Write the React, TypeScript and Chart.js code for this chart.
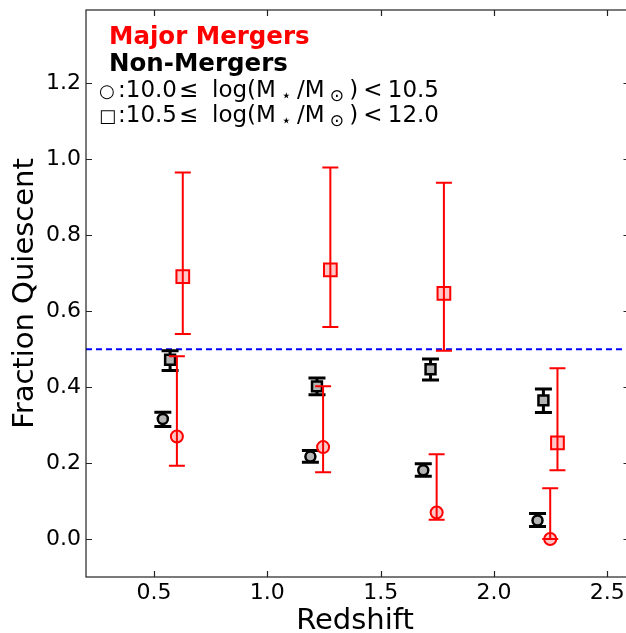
import React, { useEffect, useRef } from 'react';
import { Chart, registerables } from 'chart.js';
Chart.register(...registerables);

const FONT = '"DejaVu Sans", sans-serif';

// axis ranges and ticks
const X_MIN = 0.2;
const X_MAX = 2.6;
const Y_MIN = -0.1;
const Y_MAX = 1.393;
const xTicks = [0.5, 1.0, 1.5, 2.0, 2.5];
const yTicks = [0.0, 0.2, 0.4, 0.6, 0.8, 1.0, 1.2];
const QUIESCENT_LINE = 0.5;

// Non-mergers, 10.0 <= log M < 10.5 (circles)
const nmLowZ = [0.539, 1.19, 1.688, 2.192];
const nmLowFrac = [0.316, 0.217, 0.181, 0.049];
const nmLowLo = [0.296, 0.202, 0.165, 0.033];
const nmLowHi = [0.334, 0.233, 0.198, 0.067];

// Non-mergers, 10.5 <= log M < 12.0 (squares)
const nmHighZ = [0.571, 1.219, 1.72, 2.218];
const nmHighFrac = [0.472, 0.402, 0.447, 0.365];
const nmHighLo = [0.444, 0.38, 0.419, 0.333];
const nmHighHi = [0.496, 0.424, 0.474, 0.395];

// Major mergers, 10.0 <= log M < 10.5 (circles)
const mmLowZ = [0.601, 1.246, 1.747, 2.248];
const mmLowFrac = [0.27, 0.242, 0.07, 0.0];
const mmLowLo = [0.193, 0.176, 0.051, 0.0];
const mmLowHi = [0.481, 0.402, 0.223, 0.134];

// Major mergers, 10.5 <= log M < 12.0 (squares)
const mmHighZ = [0.627, 1.278, 1.779, 2.28];
const mmHighFrac = [0.691, 0.709, 0.647, 0.253];
const mmHighLo = [0.54, 0.558, 0.496, 0.181];
const mmHighHi = [0.965, 0.978, 0.938, 0.45];

const toPts = (xs: number[], ys: number[]) => xs.map((x, i) => ({ x, y: ys[i] }));

const errorBarPlugin = {
  id: 'errorBars',
  beforeDatasetDraw(chart: any, args: any) {
    const ds = chart.data.datasets[args.index];
    if (!ds.errLo) return;
    const { ctx, scales } = chart;
    const xs = scales.x, ys = scales.y;
    ctx.save();
    ctx.strokeStyle = ds.errColor;
    ctx.lineWidth = ds.errWidth;
    ds.data.forEach((p: any, i: number) => {
      const px = xs.getPixelForValue(p.x);
      const yl = ys.getPixelForValue(ds.errLo[i]);
      const yh = ys.getPixelForValue(ds.errHi[i]);
      const c = ds.capHalf;
      ctx.beginPath();
      ctx.moveTo(px, yl); ctx.lineTo(px, yh);
      ctx.moveTo(px - c, yl); ctx.lineTo(px + c, yl);
      ctx.moveTo(px - c, yh); ctx.lineTo(px + c, yh);
      ctx.stroke();
    });
    ctx.restore();
  },
};

type Piece = { t: string; size: number; bold?: boolean; dy?: number };

const fontOf = (p: Piece) => `${p.bold ? 'bold ' : ''}${p.size}px ${FONT}`;

// draw pieces from x0, spread evenly so that the run ends at x1 (if given)
const drawRun = (ctx: CanvasRenderingContext2D, pieces: Piece[], x0: number, y: number, x1?: number) => {
  const widths = pieces.map((p) => { ctx.font = fontOf(p); return ctx.measureText(p.t).width; });
  const natural = widths.reduce((s, w) => s + w, 0);
  const extra = x1 !== undefined && pieces.length > 1 ? Math.max(0, (x1 - x0 - natural) / (pieces.length - 1)) : 0;
  let x = x0;
  ctx.textAlign = 'left';
  ctx.textBaseline = 'alphabetic';
  pieces.forEach((p, i) => {
    ctx.font = fontOf(p);
    ctx.fillText(p.t, x, y + (p.dy || 0));
    x += widths[i] + extra;
  });
};

const framePlugin = {
  id: 'frame',
  afterDraw(chart: any) {
    const { ctx, chartArea: a, scales } = chart;
    const xs = scales.x, ys = scales.y;
    ctx.save();
    // spines
    ctx.strokeStyle = '#222';
    ctx.lineWidth = 1.2;
    ctx.strokeRect(a.left, a.top, a.right - a.left - 0.5, a.bottom - a.top);
    // inward ticks
    const tl = 6;
    ctx.beginPath();
    xTicks.forEach((v) => {
      const px = Math.round(xs.getPixelForValue(v)) + 0.5;
      ctx.moveTo(px, a.bottom); ctx.lineTo(px, a.bottom - tl);
      ctx.moveTo(px, a.top); ctx.lineTo(px, a.top + tl);
    });
    yTicks.forEach((v) => {
      const py = Math.round(ys.getPixelForValue(v)) + 0.5;
      ctx.moveTo(a.left, py); ctx.lineTo(a.left + tl, py);
      ctx.moveTo(a.right - 0.5, py); ctx.lineTo(a.right - 0.5 - tl, py);
    });
    ctx.stroke();

    // axis titles
    ctx.fillStyle = '#000';
    ctx.font = `29px ${FONT}`;
    ctx.textAlign = 'center';
    ctx.textBaseline = 'alphabetic';
    ctx.fillText('Redshift', 355, 629);
    ctx.save();
    ctx.translate(33, (a.top + a.bottom) / 2);
    ctx.rotate(-Math.PI / 2);
    ctx.fillText('Fraction Quiescent', 0, 0);
    ctx.restore();

    // legend text
    ctx.fillStyle = '#ff0000';
    drawRun(ctx, [{ t: 'Major Mergers', size: 24.5, bold: true }], 109, 44);
    ctx.fillStyle = '#000';
    drawRun(ctx, [{ t: 'Non-Mergers', size: 24.5, bold: true }], 109, 70.5);
    const line = (sym: string, lo: string, hi: string, y: number) => {
      drawRun(ctx, [{ t: sym, size: 18 }], 99, y);
      drawRun(ctx, [{ t: ':' + lo, size: 23 }], 118, y);
      drawRun(ctx, [{ t: '≤', size: 23 }], 179, y);
      drawRun(ctx, [
        { t: 'log(M', size: 23 },
        { t: '⋆', size: 17, dy: 4 },
        { t: '/M', size: 23 },
        { t: '⊙', size: 17, dy: 4 },
        { t: ')', size: 23 },
        { t: '<', size: 23 },
        { t: hi, size: 23 },
      ], 212, y, 439);
    };
    line('○', '10.0', '10.5', 96.5);
    line('□', '10.5', '12.0', 122);
    ctx.restore();
  },
};

export default function App() {
  const ref = useRef<HTMLCanvasElement>(null);
  useEffect(() => {
    document.body.style.margin = '0';
    const canvas = ref.current!;
    const chart = new Chart(canvas, {
      type: 'scatter',
      data: {
        datasets: [
          {
            label: 'Major Mergers 10.5-12.0',
            data: toPts(mmHighZ, mmHighFrac),
            pointStyle: 'rect',
            pointRadius: 9,
            borderColor: '#ff0000',
            backgroundColor: 'rgba(255,0,0,0.22)',
            borderWidth: 2,
            errLo: mmHighLo, errHi: mmHighHi, errColor: '#ff0000', errWidth: 2, capHalf: 8,
          } as any,
          {
            label: 'Major Mergers 10.0-10.5',
            data: toPts(mmLowZ, mmLowFrac),
            pointStyle: 'circle',
            pointRadius: 6,
            borderColor: '#ff0000',
            backgroundColor: 'rgba(255,0,0,0.22)',
            borderWidth: 2,
            errLo: mmLowLo, errHi: mmLowHi, errColor: '#ff0000', errWidth: 2, capHalf: 8,
          } as any,
          {
            label: 'Non-Mergers 10.5-12.0',
            data: toPts(nmHighZ, nmHighFrac),
            pointStyle: 'rect',
            pointRadius: 7,
            borderColor: '#000',
            backgroundColor: '#b4b4b4',
            borderWidth: 2.5,
            errLo: nmHighLo, errHi: nmHighHi, errColor: '#000', errWidth: 3, capHalf: 8.5,
          } as any,
          {
            label: 'Non-Mergers 10.0-10.5',
            data: toPts(nmLowZ, nmLowFrac),
            pointStyle: 'circle',
            pointRadius: 5,
            borderColor: '#000',
            backgroundColor: '#b4b4b4',
            borderWidth: 2.5,
            errLo: nmLowLo, errHi: nmLowHi, errColor: '#000', errWidth: 3, capHalf: 8.5,
          } as any,
          {
            type: 'line',
            label: 'threshold',
            data: [
              { x: X_MIN, y: QUIESCENT_LINE },
              { x: X_MAX, y: QUIESCENT_LINE },
            ],
            borderColor: '#0000ff',
            borderWidth: 2,
            borderDash: [6, 4],
            pointRadius: 0,
            fill: false,
          } as any,
        ],
      },
      options: {
        animation: false,
        responsive: false,
        devicePixelRatio: 1,
        layout: { autoPadding: false, padding: { top: 10, right: 0, left: 0, bottom: 0 } },
        plugins: { legend: { display: false }, tooltip: { enabled: false } },
        scales: {
          x: {
            type: 'linear',
            min: X_MIN,
            max: X_MAX,
            grid: { display: false, drawTicks: false },
            border: { display: false },
            afterBuildTicks: (s: any) => { s.ticks = xTicks.map((v) => ({ value: v })); },
            afterFit: (s: any) => { s.height = 56; s.paddingLeft = 0; s.paddingRight = 0; },
            ticks: {
              color: '#000',
              font: { family: FONT, size: 22 },
              padding: 3,
              maxRotation: 0,
              callback: (v: any) => Number(v).toFixed(1),
            },
          },
          y: {
            type: 'linear',
            min: Y_MIN,
            max: Y_MAX,
            grid: { display: false, drawTicks: false },
            border: { display: false },
            afterBuildTicks: (s: any) => { s.ticks = yTicks.map((v) => ({ value: v })); },
            afterFit: (s: any) => { s.width = 86; s.paddingTop = 0; s.paddingBottom = 0; },
            ticks: {
              color: '#000',
              font: { family: FONT, size: 22 },
              padding: 5,
              callback: (v: any) => Number(v).toFixed(1),
            },
          },
        },
      },
      plugins: [errorBarPlugin, framePlugin],
    });
    return () => chart.destroy();
  }, []);
  return (
    <div style={{ width: 626, height: 633, overflow: 'hidden', background: '#fff' }}>
      <canvas ref={ref} width={630} height={633} style={{ display: 'block' }} />
    </div>
  );
}
